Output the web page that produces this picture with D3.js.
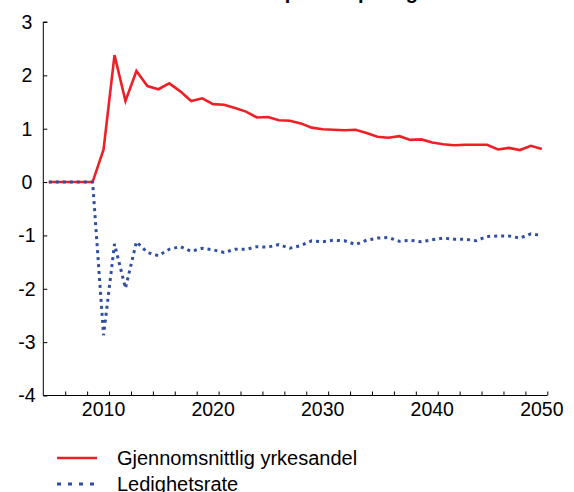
<!DOCTYPE html>
<html>
<head>
<meta charset="utf-8">
<script src="https://cdn.jsdelivr.net/npm/d3@7"></script>
<style>
  html, body { margin: 0; padding: 0; background: #fff; }
  svg { display: block; font-family: "Liberation Sans", Arial, sans-serif; }
</style>
</head>
<body>
<svg id="chart" width="574" height="492"></svg>
<script>
const titleText = "Avvik i prosentpoeng";
const years = d3.range(2005, 2051);
const yrkesandel = [
  0, 0, 0, 0, 0,
  0.61, 2.38, 1.52, 2.08, 1.80,
  1.74, 1.85, 1.70, 1.52, 1.57,
  1.46, 1.45, 1.39, 1.32, 1.21,
  1.22, 1.16, 1.15, 1.10, 1.02,
  0.99, 0.98, 0.97, 0.98, 0.92,
  0.85, 0.83, 0.86, 0.79, 0.80,
  0.74, 0.71, 0.69, 0.70, 0.70,
  0.70, 0.61, 0.64, 0.60, 0.68,
  0.62
];
const ledighet = [
  0, 0, 0, 0, 0,
  -2.87, -1.16, -1.99, -1.12, -1.32,
  -1.38, -1.26, -1.21, -1.30, -1.24,
  -1.27, -1.32, -1.26, -1.26, -1.21,
  -1.22, -1.17, -1.24, -1.19, -1.10,
  -1.12, -1.09, -1.10, -1.17, -1.09,
  -1.05, -1.04, -1.11, -1.09, -1.12,
  -1.08, -1.05, -1.07, -1.07, -1.10,
  -1.02, -1.01, -1.01, -1.05, -0.97,
  -1.00
];
const yTicks = [3, 2, 1, 0, -1, -2, -3, -4];
const xLabels = [2010, 2020, 2030, 2040, 2050];
const seriesNames = ["Gjennomsnittlig yrkesandel", "Ledighetsrate"];

const svg = d3.select("#chart");
const x = d3.scaleLinear().domain([2004.5, 2050.5]).range([43.3, 547.3]);
const y = d3.scaleLinear().domain([-4, 3]).range([395.5, 22]);

// title (mostly cut off at top, as in the reference)
svg.append("text")
  .attr("x", 418).attr("y", -1)
  .attr("text-anchor", "end")
  .attr("font-weight", "bold")
  .attr("font-size", 20)
  .text(titleText);

// y axis
const yAxis = svg.append("g")
  .attr("transform", `translate(${x(2004.5)},0)`)
  .call(d3.axisRight(y).tickValues(yTicks).tickSize(4).tickFormat(""));
yAxis.select(".domain").attr("stroke", "#000").attr("d", `M4,${y(3)}H0V${y(-4)}`);
yAxis.selectAll(".tick line").attr("stroke", "#000");

svg.append("g").selectAll("text").data(yTicks).join("text")
  .attr("x", 27).attr("y", d => y(d))
  .attr("dy", "0.35em")
  .attr("text-anchor", "middle")
  .attr("font-size", 19.5)
  .text(d => d);

// x axis
const boundaryTicks = d3.range(2006.5, 2051, 2);
const xAxis = svg.append("g")
  .attr("transform", `translate(0,${y(-4)})`)
  .call(d3.axisTop(x).tickValues(boundaryTicks).tickSize(4).tickFormat(""));
xAxis.select(".domain").attr("stroke", "#000").attr("d", `M${x(2004.5)},0H${x(2050.5)}`);
xAxis.selectAll(".tick line").attr("stroke", "#000");

svg.append("g").selectAll("text").data(xLabels).join("text")
  .attr("x", d => x(d)).attr("y", 416)
  .attr("text-anchor", "middle")
  .attr("font-size", 19.5)
  .text(d => d);

// lines
const line = d3.line().x((d, i) => x(years[i])).y(d => y(d));
svg.append("path").datum(yrkesandel)
  .attr("fill", "none").attr("stroke", "#ee2027").attr("stroke-width", 2.6)
  .attr("stroke-linejoin", "miter")
  .attr("d", line);
svg.append("path").datum(ledighet)
  .attr("fill", "none").attr("stroke", "#2f4f9f").attr("stroke-width", 3)
  .attr("stroke-dasharray", "3,4")
  .attr("d", line);

// legend
const legend = svg.append("g");
const styles = [
  {stroke: "#ee2027", width: 2.6, dash: null},
  {stroke: "#2f4f9f", width: 3, dash: "4,7"}
];
seriesNames.forEach((name, i) => {
  const ly = 458 + i * 26;
  legend.append("line")
    .attr("x1", 57).attr("x2", 97).attr("y1", ly).attr("y2", ly)
    .attr("stroke", styles[i].stroke).attr("stroke-width", styles[i].width)
    .attr("stroke-dasharray", styles[i].dash);
  legend.append("text")
    .attr("x", 117).attr("y", ly + 7)
    .attr("font-size", 20)
    .text(name);
});
</script>
</body>
</html>
